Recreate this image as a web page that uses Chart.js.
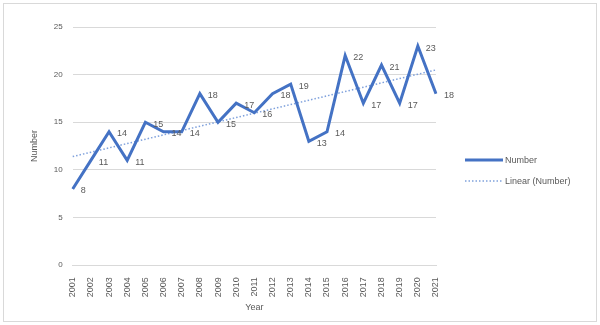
<!DOCTYPE html>
<html>
<head>
<meta charset="utf-8">
<script src="https://cdn.jsdelivr.net/npm/chart.js@4/dist/chart.umd.min.js"></script>
<style>
  html, body { margin: 0; padding: 0; background: #fff; }
  #wrap { width: 600px; height: 325px; position: relative; }
</style>
</head>
<body>
<div id="wrap"><canvas id="grafico"></canvas></div>
<script>
// dados
const anos = ['2001','2002','2003','2004','2005','2006','2007','2008','2009','2010','2011',
    '2012','2013','2014','2015','2016','2017','2018','2019','2020','2021'];
const valores = [8, 11, 14, 11, 15, 14, 14, 18, 15, 17, 16, 18, 19, 13, 14, 22, 17, 21, 17, 23, 18];
// linha de tendência (pontas)
const anosTendencia = ['2001', '2021'];
const valoresTendencia = [11.4, 20.5];

const cinza = '#595959';
const fonte = 'Liberation Sans';

// borda externa do gráfico
const bordaPlugin = {
    id: 'borda',
    beforeDraw(chart) {
        const c = chart.ctx;
        c.save();
        c.fillStyle = '#fff';
        c.fillRect(0, 0, chart.width, chart.height);
        c.strokeStyle = '#d9d9d9';
        c.lineWidth = 1;
        c.strokeRect(3.5, 3.5, chart.width - 7, chart.height - 7);
        c.restore();
    }
};

// rótulos de dados à direita dos pontos
const rotulosPlugin = {
    id: 'rotulos',
    afterDatasetsDraw(chart) {
        const c = chart.ctx;
        const meta = chart.getDatasetMeta(0);
        c.save();
        c.font = '9px "' + fonte + '"';
        c.fillStyle = cinza;
        c.textAlign = 'left';
        c.textBaseline = 'middle';
        meta.data.forEach(function (p, i) {
            c.fillText(String(valores[i]), p.x + 8, p.y + 2);
        });
        c.restore();
    }
};

// legenda desenhada à mão (à direita)
const legendaPlugin = {
    id: 'legenda',
    afterDraw(chart) {
        const c = chart.ctx;
        const area = chart.chartArea;
        const x0 = area.right + 29;
        const yMeio = (area.top + area.bottom) / 2;
        c.save();
        c.font = '9px "' + fonte + '"';
        c.fillStyle = cinza;
        c.textAlign = 'left';
        c.textBaseline = 'middle';
        chart.data.datasets.forEach(function (ds, i) {
            const y = yMeio + 14 + i * 21;
            c.strokeStyle = ds.borderColor;
            c.lineWidth = ds.borderWidth;
            c.setLineDash(ds.borderDash || []);
            c.beginPath();
            c.moveTo(x0, y);
            c.lineTo(x0 + 38, y);
            c.stroke();
            c.fillText(ds.label, x0 + 40, y);
        });
        c.restore();
    }
};

new Chart(document.getElementById('grafico'), {
    type: 'line',
    data: {
        labels: anos,
        datasets: [
            {
                label: 'Number',
                data: valores,
                borderColor: '#4472C4',
                backgroundColor: '#4472C4',
                borderWidth: 3,
                pointRadius: 0,
                tension: 0
            },
            {
                label: 'Linear (Number)',
                data: anosTendencia.map((a, i) => ({ x: a, y: valoresTendencia[i] })),
                borderColor: '#7fa1dc',
                backgroundColor: '#7fa1dc',
                borderWidth: 1.5,
                borderDash: [1.5, 2],
                pointRadius: 0,
                tension: 0
            }
        ]
    },
    options: {
        responsive: true,
        maintainAspectRatio: false,
        animation: false,
        layout: {
            padding: { left: 29, top: 27, right: 164, bottom: 12 }
        },
        plugins: {
            tooltip: { enabled: false },
            legend: { display: false }
        },
        scales: {
            x: {
                grid: { display: false },
                border: { display: true, color: '#d9d9d9' },
                ticks: {
                    color: cinza,
                    font: { family: fonte, size: 9 },
                    minRotation: 90,
                    maxRotation: 90,
                    autoSkip: false,
                    padding: 4
                },
                title: {
                    display: true,
                    text: 'Year',
                    color: cinza,
                    font: { family: fonte, size: 9 },
                    padding: { top: 1, bottom: 0 }
                }
            },
            y: {
                min: 0,
                max: 25,
                grid: { color: '#d9d9d9', drawTicks: false },
                border: { display: false },
                ticks: {
                    stepSize: 5,
                    color: cinza,
                    font: { family: fonte, size: 8 },
                    padding: 10
                },
                title: {
                    display: true,
                    text: 'Number',
                    color: cinza,
                    font: { family: fonte, size: 9 },
                    padding: { top: 0, bottom: 4 }
                }
            }
        }
    },
    plugins: [bordaPlugin, rotulosPlugin, legendaPlugin]
});
</script>
</body>
</html>
